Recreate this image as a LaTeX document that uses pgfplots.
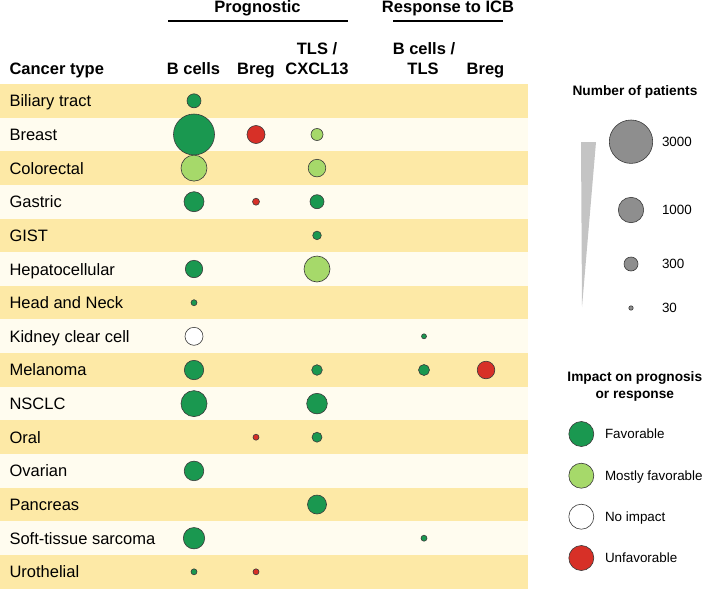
\documentclass[border=0pt]{standalone}
\usepackage{pgfplots}
\pgfplotsset{compat=1.18}
\usepackage{fontspec}
\setmainfont{Liberation Sans}
\definecolor{bandY}{HTML}{FDE9A6}
\definecolor{bandL}{HTML}{FFFCEF}
\definecolor{fav}{HTML}{1A9850}
\definecolor{most}{HTML}{A6D96A}
\definecolor{unfav}{HTML}{D73027}
\definecolor{gcirc}{HTML}{8E8E8E}
\definecolor{tri}{HTML}{C4C4C4}
\definecolor{edge}{HTML}{3A3A3A}
\newcommand{\bigf}{\fontsize{16.5}{19}\selectfont}
\newcommand{\smf}{\fontsize{13.4}{16}\selectfont}
\newcommand{\smbf}{\fontsize{13.7}{16}\selectfont\bfseries}
\pgfplotstableread{
x y r
194 100.8 7
194 134.5 20.5
194 201.7 10
317 201.7 7
317 235.4 4.3
194 269.0 8.7
194 302.7 3
194 370.0 9.7
317 370.0 5.3
424 370.0 5.5
194 403.6 13
317 403.6 10.3
317 437.2 5
194 470.9 9.8
317 504.5 9.5
194 538.2 10.7
424 538.2 3
194 571.8 3
424 336.3 2.5
}\favtab
\pgfplotstableread{
x y r
317 134.5 6
194 168.1 13
317 168.1 8.8
317 269.0 13
}\mosttab
\pgfplotstableread{
x y r
194 336.3 9
}\notab
\pgfplotstableread{
x y r
256 134.5 9
256 201.7 3.5
256 437.2 3
256 571.8 3
486 370.0 8.8
}\unfavtab
\pgfplotstableread{
x y r
631 141.7 21.7
631 210.0 12.7
631 264.0 7
631 308.0 2.2
}\sizetab
\pgfplotstableread{
x y r
581.3 434.0 12.5
}\legfav
\pgfplotstableread{
x y r
581.3 475.7 12.5
}\legmost
\pgfplotstableread{
x y r
581.3 516.7 12.5
}\legno
\pgfplotstableread{
x y r
581.3 558.0 12.5
}\legunfav
\pgfplotsset{
  bubble/.style={scatter, only marks, mark=*,
    scatter/use mapped color={draw=edge, fill=#1, line width=0.6pt},
    visualization depends on={\thisrow{r}\as\rad},
    scatter/@pre marker code/.append style={/tikz/mark size=\rad}},
}
\begin{document}
\begin{tikzpicture}
\useasboundingbox (0,0) rectangle (703pt,589pt);
\begin{axis}[at={(0,0)}, anchor=south west, scale only axis, width=703pt, height=589pt,
  xmin=0, xmax=703, ymin=0, ymax=589, y dir=reverse, hide axis, clip=false]
\pgfplotsinvokeforeach{0,2,...,14}{
  \fill[bandY] (axis cs:0,{84+33.64*#1}) rectangle (axis cs:528,{84+33.64*(#1+1)});
}
\pgfplotsinvokeforeach{1,3,...,13}{
  \fill[bandL] (axis cs:0,{84+33.64*#1}) rectangle (axis cs:528,{84+33.64*(#1+1)});
}
% headers
\node[anchor=base, font=\bigf\bfseries] at (axis cs:257.5,12.5) {Prognostic};
\node[anchor=base, font=\bigf\bfseries] at (axis cs:448,12.5) {Response to ICB};
\draw[line width=1.1pt] (axis cs:168,21) -- (axis cs:348,21);
\draw[line width=1.1pt] (axis cs:393,21) -- (axis cs:503,21);
\node[anchor=base west, font=\bigf\bfseries] at (axis cs:6,74) {Cancer type};
\node[anchor=base, font=\bigf\bfseries] at (axis cs:193.5,74) {B cells};
\node[anchor=base, font=\bigf\bfseries] at (axis cs:256,74) {Breg};
\node[anchor=base, font=\bigf\bfseries] at (axis cs:317,54) {TLS /};
\node[anchor=base, font=\bigf\bfseries] at (axis cs:317,74) {CXCL13};
\node[anchor=base, font=\bigf\bfseries] at (axis cs:424,54) {B cells /};
\node[anchor=base, font=\bigf\bfseries] at (axis cs:423,74) {TLS};
\node[anchor=base, font=\bigf\bfseries] at (axis cs:485.5,74) {Breg};
% row labels
\pgfplotsforeachungrouped \i/\lab in {0/Biliary tract,1/Breast,2/Colorectal,3/Gastric,4/GIST,5/Hepatocellular,6/Head and Neck,7/Kidney clear cell,8/Melanoma,9/NSCLC,10/Oral,11/Ovarian,12/Pancreas,13/Soft-tissue sarcoma,14/Urothelial}{
  \edef\temp{\noexpand\node[anchor=base west, font=\noexpand\bigf] at (axis cs:6,{84+33.64*(\i+0.5)+6}) {\lab};}
  \temp
}
% bubbles
\addplot[bubble=fav] table[x=x,y=y] {\favtab};
\addplot[bubble=most] table[x=x,y=y] {\mosttab};
\addplot[bubble=white] table[x=x,y=y] {\notab};
\addplot[bubble=unfav] table[x=x,y=y] {\unfavtab};
% size legend
\node[anchor=base, font=\smbf] at (axis cs:635,95) {Number of patients};
\fill[tri] (axis cs:581,142) -- (axis cs:596,142) -- (axis cs:582,307) -- cycle;
\addplot[bubble=gcirc] table[x=x,y=y] {\sizetab};
\node[anchor=base west, font=\smf] at (axis cs:658.5,146.6) {3000};
\node[anchor=base west, font=\smf] at (axis cs:658.5,214.9) {1000};
\node[anchor=base west, font=\smf] at (axis cs:658.5,268.9) {300};
\node[anchor=base west, font=\smf] at (axis cs:658.5,312.9) {30};
% impact legend
\node[anchor=base, font=\smbf] at (axis cs:634.8,381.7) {Impact on prognosis};
\node[anchor=base, font=\smbf] at (axis cs:634.8,398.3) {or response};
\addplot[bubble=fav] table[x=x,y=y] {\legfav};
\addplot[bubble=most] table[x=x,y=y] {\legmost};
\addplot[bubble=white] table[x=x,y=y] {\legno};
\addplot[bubble=unfav] table[x=x,y=y] {\legunfav};
\node[anchor=base west, font=\smf] at (axis cs:601.5,438.9) {Favorable};
\node[anchor=base west, font=\smf] at (axis cs:601.5,480.6) {Mostly favorable};
\node[anchor=base west, font=\smf] at (axis cs:601.5,521.6) {No impact};
\node[anchor=base west, font=\smf] at (axis cs:601.5,562.9) {Unfavorable};
\end{axis}
\end{tikzpicture}
\end{document}
